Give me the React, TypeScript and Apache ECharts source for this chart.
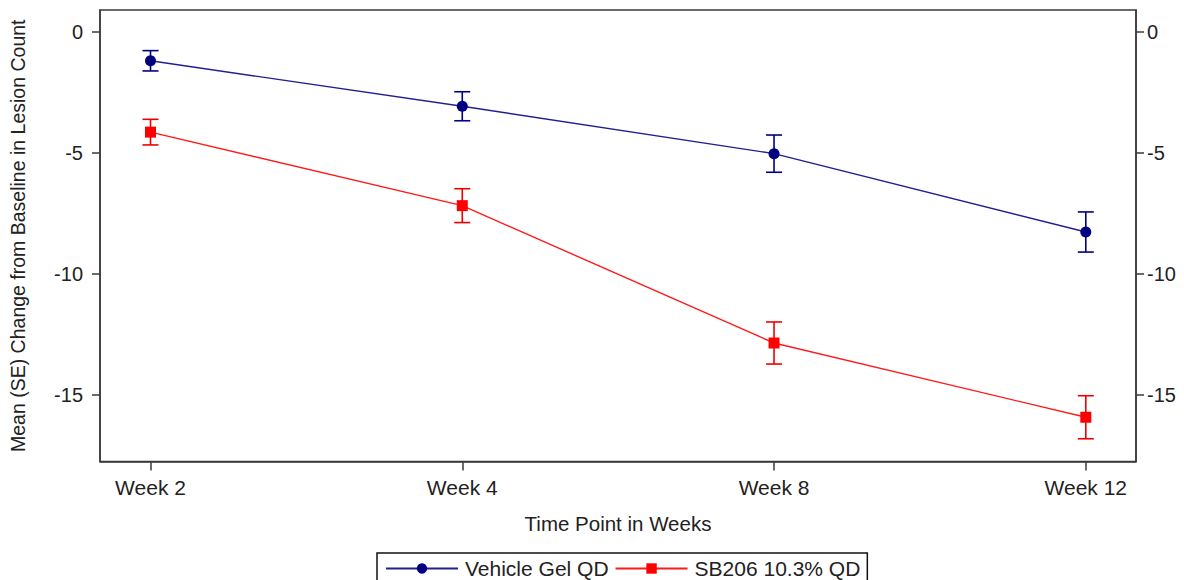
import React, { useEffect, useRef } from "react";
import * as echarts from "echarts";

// Visit labels and their positions along the x axis
const weeks = ["Week 2", "Week 4", "Week 8", "Week 12"];
const weekIndex = [0, 1, 2, 3];

// Mean change from baseline and its standard error, per visit
const vehicleMean = [-1.18, -3.06, -5.02, -8.26];
const vehicleSE = [0.42, 0.6, 0.77, 0.83];
const sbMean = [-4.13, -7.17, -12.85, -15.92];
const sbSE = [0.53, 0.7, 0.87, 0.89];

const yTicks = [-15, -10, -5, 0];

const VEHICLE = "Vehicle Gel QD";
const SB206 = "SB206 10.3% QD";

const FONT = "'Liberation Sans', Arial, sans-serif";
const AXIS_COLOR = "#3a3a3a";
const TEXT_COLOR = "#222";

function errorBars(name: string, mean: number[], se: number[], color: string) {
  const data = weekIndex.map((x, i) => [x, mean[i] - se[i], mean[i] + se[i]]);
  return {
    type: "custom",
    name: name + " SE",
    data,
    z: 1,
    silent: true,
    renderItem: (params: any, api: any) => {
      const x = api.value(0);
      const lo = api.coord([x, api.value(1)]);
      const hi = api.coord([x, api.value(2)]);
      const half = 8;
      const style = { stroke: color, lineWidth: 1.6, fill: "none" };
      return {
        type: "group",
        children: [
          { type: "line", shape: { x1: lo[0], y1: lo[1], x2: hi[0], y2: hi[1] }, style },
          { type: "line", shape: { x1: hi[0] - half, y1: hi[1], x2: hi[0] + half, y2: hi[1] }, style },
          { type: "line", shape: { x1: lo[0] - half, y1: lo[1], x2: lo[0] + half, y2: lo[1] }, style },
        ],
      };
    },
  };
}

export default function App() {
  const ref = useRef<HTMLDivElement>(null);

  useEffect(() => {
    if (!ref.current) return;
    const chart = echarts.init(ref.current, null, { renderer: "svg" });

    const yCommon = {
      type: "value",
      min: -17.75,
      max: 0.92,
      splitLine: { show: false },
      axisLine: { show: true, onZero: false, lineStyle: { color: AXIS_COLOR, width: 1.5 } },
      axisTick: {
        show: true,
        length: 8,
        customValues: yTicks,
        lineStyle: { color: AXIS_COLOR, width: 1.5 },
      },
    };

    chart.setOption({
      animation: false,
      textStyle: { fontFamily: FONT },
      grid: {
        left: 100,
        top: 10,
        width: 1036,
        height: 451.5,
        containLabel: false,
        outerBoundsMode: "none",
        show: true,
        borderColor: AXIS_COLOR,
        borderWidth: 1.5,
        backgroundColor: "transparent",
      },
      legend: {
        data: [VEHICLE, SB206],
        left: 377,
        top: 553,
        orient: "horizontal",
        itemWidth: 72,
        itemHeight: 13,
        itemGap: 6,
        padding: [5, 7, 8, 8],
        borderColor: "#111",
        borderWidth: 1.5,
        textStyle: { fontSize: 21, color: TEXT_COLOR, fontFamily: FONT, padding: [0, 0, 0, 2] },
      },
      xAxis: {
        type: "value",
        min: -0.162,
        max: 3.161,
        name: "Time Point in Weeks",
        nameLocation: "middle",
        nameGap: 51,
        nameTextStyle: { fontSize: 20.5, color: TEXT_COLOR, fontFamily: FONT },
        splitLine: { show: false },
        axisLine: { show: true, onZero: false, lineStyle: { color: AXIS_COLOR, width: 1.5 } },
        axisTick: {
          show: true,
          length: 9,
          customValues: weekIndex,
          lineStyle: { color: AXIS_COLOR, width: 1.5 },
        },
        axisLabel: {
          customValues: weekIndex,
          formatter: (v: number) => weeks[Math.round(v)] ?? "",
          fontSize: 21,
          color: TEXT_COLOR,
          fontFamily: FONT,
          margin: 15,
        },
      },
      yAxis: [
        {
          ...yCommon,
          position: "left",
          name: "Mean (SE) Change from Baseline in Lesion Count",
          nameLocation: "middle",
          nameGap: 72,
          nameTextStyle: { fontSize: 19.5, color: TEXT_COLOR, fontFamily: FONT },
          axisLabel: {
            customValues: yTicks,
            fontSize: 20,
            color: TEXT_COLOR,
            fontFamily: FONT,
            margin: 17,
          },
        },
        {
          ...yCommon,
          position: "right",
          axisLabel: {
            customValues: yTicks,
            fontSize: 20,
            color: TEXT_COLOR,
            fontFamily: FONT,
            margin: 11,
          },
        },
      ],
      series: [
        errorBars(VEHICLE, vehicleMean, vehicleSE, "#000080"),
        errorBars(SB206, sbMean, sbSE, "#ee0000"),
        {
          type: "line",
          name: VEHICLE,
          data: weekIndex.map((x, i) => [x, vehicleMean[i]]),
          symbol: "circle",
          symbolSize: 11,
          z: 3,
          lineStyle: { color: "#20208f", width: 1.4 },
          itemStyle: { color: "#000080" },
        },
        {
          type: "line",
          name: SB206,
          data: weekIndex.map((x, i) => [x, sbMean[i]]),
          symbol: "rect",
          symbolSize: 11,
          z: 3,
          lineStyle: { color: "#ff1a1a", width: 1.4 },
          itemStyle: { color: "#ff0000" },
        },
      ],
    });

    return () => chart.dispose();
  }, []);

  return (
    <div
      ref={ref}
      style={{ position: "fixed", left: 0, top: 0, width: 1184, height: 580, background: "#fff" }}
    />
  );
}
